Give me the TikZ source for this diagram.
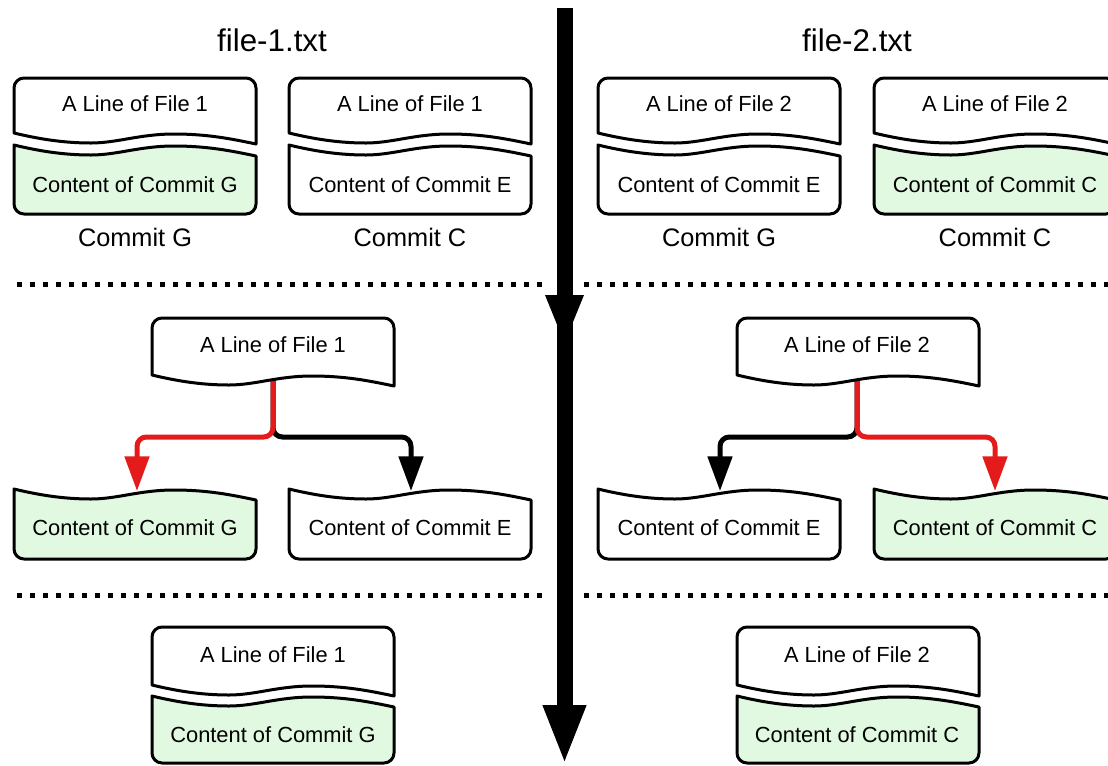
\documentclass[tikz,border=0pt]{standalone}
\usepackage{fontspec}
\setmainfont{Liberation Sans}
\usetikzlibrary{arrows.meta}

\definecolor{commitgreen}{RGB}{224,249,224}
\definecolor{pickred}{RGB}{229,26,26}

% Upper half of a split document: rounded top corners, wavy bottom edge.
% #1 left x, #2 top y, #3 y of the wave at the left edge, #4 fill
\newcommand\upperdoc[4]{%
  \begin{scope}[shift={(#1,#2)}]
    \pgfmathsetmacro\docH{#3-#2}
    \draw[docline,fill=#4] (0,\docH) -- (0,10)
      .. controls (0,4.5) and (4.5,0) .. (10,0) -- (232,0)
      .. controls (237.5,0) and (242,4.5) .. (242,10) -- (242,\docH+11)
      .. controls +(-24,-5) and +(34,0) .. (160,\docH+1)
      .. controls +(-34,0) and +(26,0) .. (77,\docH+10)
      .. controls +(-24,0) and +(29,7) .. (0,\docH) -- cycle;
  \end{scope}}

% Lower half of a split document: wavy top edge, rounded bottom corners.
% #1 left x, #2 y of the wave at the left edge, #3 bottom y, #4 fill
\newcommand\lowerdoc[4]{%
  \begin{scope}[shift={(#1,#2)}]
    \pgfmathsetmacro\docB{#3-#2}
    \draw[docline,fill=#4] (0,0)
      .. controls +(29,7) and +(-24,0) .. (77,10)
      .. controls +(26,0) and +(-34,0) .. (160,1)
      .. controls +(34,0) and +(-24,-5) .. (242,11) -- (242,\docB-10)
      .. controls (242,\docB-4.5) and (237.5,\docB) .. (232,\docB) -- (10,\docB)
      .. controls (4.5,\docB) and (0,\docB-4.5) .. (0,\docB-10) -- cycle;
  \end{scope}}

\tikzset{
  docline/.style={line width=2.25pt, line join=round},
  boxtext/.style={font=\fontsize{16.4}{19}\selectfont, inner sep=0pt},
  commitlabel/.style={font=\fontsize{19}{22}\selectfont, inner sep=0pt},
  filetitle/.style={font=\fontsize{23.5}{27}\selectfont, inner sep=0pt},
  pickarrow/.style={line width=3.75pt, rounded corners=7pt, line join=round,
    -{Triangle[width=18pt,length=26pt]}},
  sepline/.style={line width=3.75pt, dash pattern=on 3.75pt off 6pt},
}

\begin{document}
\begin{tikzpicture}[x=0.75pt,y=-0.75pt]
  \useasboundingbox (0,0) rectangle (1108,765);
  \clip (0,0) rectangle (1108,765);

  % ---- time axis ----
  \coordinate (flowtop) at (564.5,8);
  \coordinate (flowend) at (564.5,765);
  \draw[line width=12pt, -{Triangle[width=29.25pt,length=45pt]}] (flowtop) -- (flowend);
  \fill (545,295) -- (584,295) -- (564.5,343) -- cycle;

  % ---- separators ----
  \coordinate (sepAL) at (17,284);  \coordinate (sepAR) at (546,284);
  \coordinate (sepBL) at (584,284); \coordinate (sepBR) at (1108,284);
  \coordinate (sepCL) at (17,595);  \coordinate (sepCR) at (546,595);
  \coordinate (sepDL) at (584,595); \coordinate (sepDR) at (1108,595);
  \draw[sepline] (sepAL) -- (sepAR);
  \draw[sepline] (sepBL) -- (sepBR);
  \draw[sepline] (sepCL) -- (sepCR);
  \draw[sepline] (sepDL) -- (sepDR);

  % ---- titles ----
  \node[filetitle] (title1) at (272,40) {file-1.txt};
  \node[filetitle] (title2) at (857,40) {file-2.txt};

  % ---- row 1: the two commits of each file ----
  \upperdoc{14}{78}{133}{white}   \lowerdoc{14}{145}{214}{commitgreen}
  \upperdoc{289}{78}{133}{white}  \lowerdoc{289}{145}{214}{white}
  \upperdoc{598}{78}{133}{white}  \lowerdoc{598}{145}{214}{white}
  \upperdoc{874}{78}{133}{white}  \lowerdoc{874}{145}{214}{commitgreen}

  \node[boxtext] (a1) at (135,104) {A Line of File 1};
  \node[boxtext] (a2) at (410,104) {A Line of File 1};
  \node[boxtext] (a3) at (719,104) {A Line of File 2};
  \node[boxtext] (a4) at (995,104) {A Line of File 2};
  \node[boxtext] (c1) at (135,185) {Content of Commit G};
  \node[boxtext] (c2) at (410,185) {Content of Commit E};
  \node[boxtext] (c3) at (719,185) {Content of Commit E};
  \node[boxtext] (c4) at (995,185) {Content of Commit C};
  \node[commitlabel] (k1) at (135,237) {Commit G};
  \node[commitlabel] (k2) at (410,237) {Commit C};
  \node[commitlabel] (k3) at (719,237) {Commit G};
  \node[commitlabel] (k4) at (995,237) {Commit C};

  % ---- row 2: choosing a side ----
  \lowerdoc{14}{489}{559}{commitgreen}
  \lowerdoc{289}{489}{559}{white}
  \lowerdoc{598}{489}{559}{white}
  \lowerdoc{874}{489}{559}{commitgreen}
  \node[boxtext] (m1) at (135,528) {Content of Commit G};
  \node[boxtext] (m2) at (410,528) {Content of Commit E};
  \node[boxtext] (m3) at (719,528) {Content of Commit E};
  \node[boxtext] (m4) at (995,528) {Content of Commit C};

  \coordinate (srcL) at (273,378); \coordinate (jL) at (273,437);
  \coordinate (inM1) at (137,491); \coordinate (inM2) at (411,491);
  \coordinate (srcR) at (857,378); \coordinate (jR) at (857,437);
  \coordinate (inM3) at (720,491); \coordinate (inM4) at (995,491);
  \draw[pickarrow, black]   (srcL) -- (jL) -| (inM2);
  \draw[pickarrow, pickred] (srcL) -- (jL) -| (inM1);
  \draw[pickarrow, black]   (srcR) -- (jR) -| (inM3);
  \draw[pickarrow, pickred] (srcR) -- (jR) -| (inM4);

  \upperdoc{152}{318}{375}{white}
  \upperdoc{737}{318}{375}{white}
  \node[boxtext] (t1) at (273,345) {A Line of File 1};
  \node[boxtext] (t2) at (857,345) {A Line of File 2};

  % ---- row 3: result ----
  \upperdoc{152}{627}{685}{white}  \lowerdoc{152}{696}{763}{commitgreen}
  \upperdoc{737}{627}{685}{white}  \lowerdoc{737}{696}{763}{commitgreen}
  \node[boxtext] (r1) at (273,655) {A Line of File 1};
  \node[boxtext] (r2) at (857,655) {A Line of File 2};
  \node[boxtext] (s1) at (273,735) {Content of Commit G};
  \node[boxtext] (s2) at (857,735) {Content of Commit C};
\end{tikzpicture}
\end{document}
